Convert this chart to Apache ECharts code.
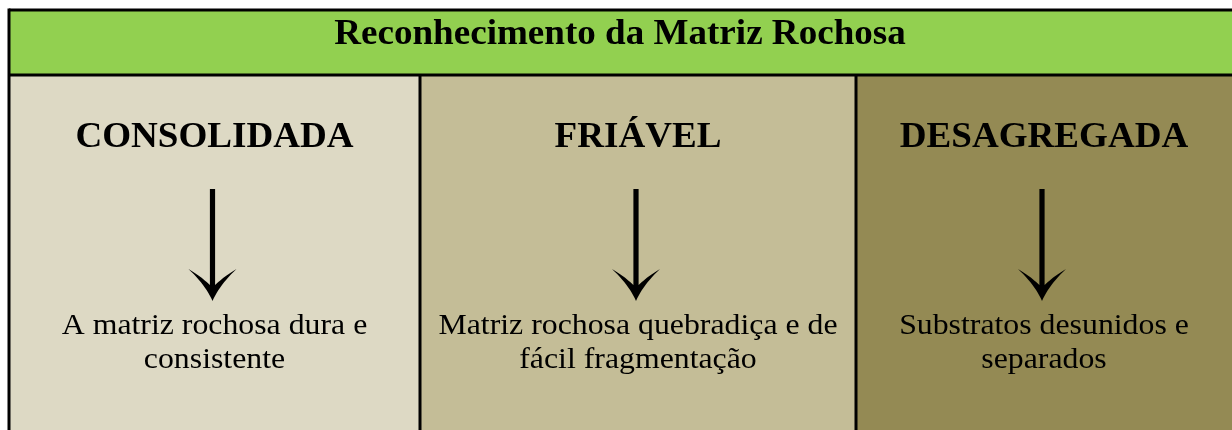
<!DOCTYPE html>
<html>
<head>
<meta charset="utf-8">
<script src="https://cdn.jsdelivr.net/npm/echarts@6/dist/echarts.min.js"></script>
<style>
html,body{margin:0;padding:0;background:#fff;}
#chart{width:1232px;height:430px;}
</style>
</head>
<body>
<div id="chart"></div>
<script>
// ---- data ----
var title = 'Reconhecimento da Matriz Rochosa';
var categories = ['CONSOLIDADA', 'FRIÁVEL', 'DESAGREGADA'];
var descriptions = [
  'A matriz rochosa dura e\nconsistente',
  'Matriz rochosa quebradiça e de\nfácil fragmentação',
  'Substratos desunidos e\nseparados'
];
var columnColors = ['#DDD9C4', '#C4BD97', '#948A54'];
var headerColor = '#92D050';

(function(){
// ---- layout ----
var W = 1232, H = 430;
var leftX = 9, topY = 10, headerBottom = 75;
var edges = [leftX, 420, 856, W + 10];
var font = '"Liberation Serif","Times New Roman",serif';

function quad(p0, p1, p2, n) {
  var pts = [];
  for (var k = 1; k <= n; k++) {
    var t = k / n, u = 1 - t;
    pts.push([u*u*p0[0] + 2*u*t*p1[0] + t*t*p2[0], u*u*p0[1] + 2*u*t*p1[1] + t*t*p2[1]]);
  }
  return pts;
}
function arrowPoints(cx) {
  var tip = [cx, 301];
  var hw = 2.6;
  var pts = [tip];
  pts = pts.concat(quad(tip, [cx - 7, 285], [cx - 24, 269], 12));
  pts = pts.concat(quad([cx - 24, 269], [cx - 12, 276], [cx - hw, 285], 12));
  pts.push([cx - hw, 189], [cx + hw, 189], [cx + hw, 285]);
  pts = pts.concat(quad([cx + hw, 285], [cx + 12, 276], [cx + 24, 269], 12));
  pts = pts.concat(quad([cx + 24, 269], [cx + 7, 285], tip, 12));
  return pts;
}

var els = [];
// header band
els.push({type:'rect', shape:{x:leftX, y:topY, width:W + 10 - leftX, height:headerBottom - topY}, style:{fill:headerColor}, z:1});
els.push({type:'text', x:W/2 + 4, y:35, scaleX:1.03, style:{text:title, font:'bold 36px ' + font, fill:'#000', textAlign:'center', textVerticalAlign:'middle'}, z:5});

categories.forEach(function(cat, i){
  var x0 = edges[i], x1 = edges[i+1];
  var cx = (x0 + Math.min(x1, W)) / 2 - 2;
  els.push({type:'rect', shape:{x:x0, y:headerBottom, width:x1 - x0, height:H - headerBottom + 10}, style:{fill:columnColors[i]}, z:1});
  els.push({type:'text', x:cx + 2, y:138, scaleX:1.03, style:{text:cat, font:'bold 36px ' + font, fill:'#000', textAlign:'center', textVerticalAlign:'middle'}, z:5});
  els.push({type:'polygon', shape:{points:arrowPoints(cx)}, style:{fill:'#000'}, z:5});
  els.push({type:'text', x:cx + 2, y:343, scaleX:1.06, style:{text:descriptions[i], font:'30px ' + font, lineHeight:34, fill:'#000', textAlign:'center', textVerticalAlign:'middle'}, z:5});
  if (i > 0) {
    els.push({type:'line', shape:{x1:x0, y1:headerBottom, x2:x0, y2:H + 10}, style:{stroke:'#000', lineWidth:3}, z:6});
  }
});
// borders
els.push({type:'line', shape:{x1:leftX, y1:topY, x2:W + 10, y2:topY}, style:{stroke:'#000', lineWidth:3}, z:6});
els.push({type:'line', shape:{x1:leftX, y1:headerBottom, x2:W + 10, y2:headerBottom}, style:{stroke:'#000', lineWidth:3}, z:6});
els.push({type:'line', shape:{x1:leftX, y1:topY - 1.5, x2:leftX, y2:H + 10}, style:{stroke:'#000', lineWidth:3}, z:6});

var chart = echarts.init(document.getElementById('chart'), null, {renderer:'canvas'});
chart.setOption({backgroundColor:'#fff', animation:false, graphic:{elements:els}});
})();
</script>
</body>
</html>
